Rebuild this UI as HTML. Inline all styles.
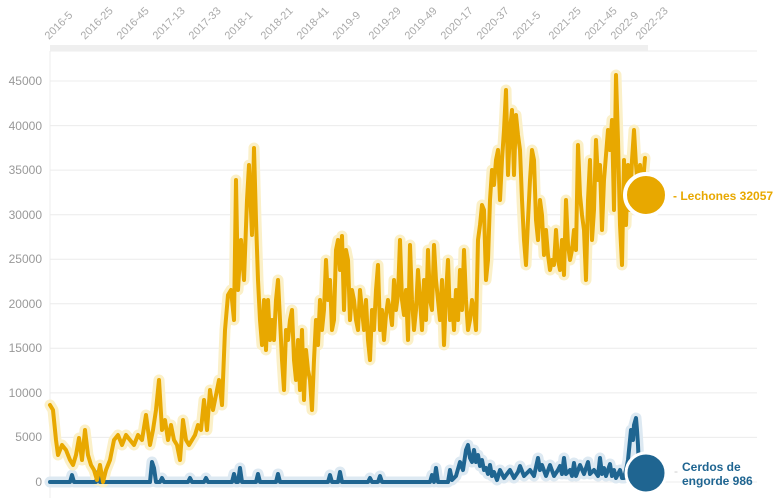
<!DOCTYPE html>
<html><head><style>body{margin:0;background:#fff}svg{display:block;font-family:"Liberation Sans",sans-serif}</style></head><body>
<svg width="783" height="498" viewBox="0 0 783 498">
<g stroke="#ececec" stroke-width="1">
<line x1="50" y1="482" x2="757" y2="482"/><line x1="50" y1="437.4" x2="757" y2="437.4"/><line x1="50" y1="392.9" x2="757" y2="392.9"/><line x1="50" y1="348.3" x2="757" y2="348.3"/><line x1="50" y1="303.8" x2="757" y2="303.8"/><line x1="50" y1="259.2" x2="757" y2="259.2"/><line x1="50" y1="214.7" x2="757" y2="214.7"/><line x1="50" y1="170.1" x2="757" y2="170.1"/><line x1="50" y1="125.6" x2="757" y2="125.6"/><line x1="50" y1="81" x2="757" y2="81"/><line x1="50" y1="51" x2="757" y2="51"/>
<line x1="50" y1="51" x2="50" y2="498"/>
</g>
<rect x="50" y="45" width="598" height="6" fill="#efefef"/>
<g fill="#999" font-size="12" text-anchor="end">
<text x="42" y="486">0</text><text x="42" y="441">5000</text><text x="42" y="397">10000</text><text x="42" y="352">15000</text><text x="42" y="308">20000</text><text x="42" y="263">25000</text><text x="42" y="219">30000</text><text x="42" y="174">35000</text><text x="42" y="130">40000</text><text x="42" y="85">45000</text>
</g>
<g fill="#aaa" font-size="11">
<text transform="translate(49,40) rotate(-45)">2016-5</text>
<text transform="translate(85,40) rotate(-45)">2016-25</text>
<text transform="translate(121,40) rotate(-45)">2016-45</text>
<text transform="translate(157,40) rotate(-45)">2017-13</text>
<text transform="translate(193,40) rotate(-45)">2017-33</text>
<text transform="translate(229,40) rotate(-45)">2018-1</text>
<text transform="translate(265,40) rotate(-45)">2018-21</text>
<text transform="translate(301,40) rotate(-45)">2018-41</text>
<text transform="translate(337,40) rotate(-45)">2019-9</text>
<text transform="translate(373,40) rotate(-45)">2019-29</text>
<text transform="translate(409,40) rotate(-45)">2019-49</text>
<text transform="translate(445,40) rotate(-45)">2020-17</text>
<text transform="translate(481,40) rotate(-45)">2020-37</text>
<text transform="translate(517,40) rotate(-45)">2021-5</text>
<text transform="translate(553,40) rotate(-45)">2021-25</text>
<text transform="translate(589,40) rotate(-45)">2021-45</text>
<text transform="translate(615,40) rotate(-45)">2022-9</text>
<text transform="translate(640,40) rotate(-45)">2022-23</text>
</g>
<defs>
<polyline id="y" points="50,405 53,410 56,440 58,455 62,445 66,450 70,460 73,465 76,455 79,438 82,460 85,430 88,455 91,465 94,470 97,480 100,465 103,482 106,470 110,460 114,440 118,435 122,445 126,435 130,440 134,445 138,435 142,440 146,415 150,445 153,430 156,410 159,380 162,430 165,420 168,440 171,425 174,440 177,445 180,460 183,420 186,440 189,445 192,440 195,435 198,425 201,430 204,400 207,430 210,390 213,410 216,395 219,380 222,405 225,330 228,295 231,290 234,320 236,180 238,290 241,240 244,280 247,200 249,165 252,235 254,148 256,220 258,280 260,320 262,345 264,300 266,350 268,300 270,340 272,320 274,340 276,300 278,280 280,320 282,360 284,390 286,330 288,340 290,320 292,310 294,360 296,380 298,340 300,390 302,330 304,400 306,350 308,370 310,380 312,410 314,360 316,320 318,345 320,300 322,330 324,310 326,260 328,300 330,280 332,330 334,320 336,250 338,240 340,270 342,236 344,310 346,250 348,260 350,320 352,290 354,300 356,320 358,330 360,290 362,310 364,330 366,300 368,340 370,360 372,310 374,330 376,290 378,265 380,330 382,310 384,340 386,315 388,300 390,310 392,325 394,280 396,310 398,295 400,240 402,300 404,315 406,290 408,340 410,245 412,300 414,330 416,310 418,270 420,300 422,330 424,280 426,320 428,250 430,300 432,310 434,245 436,280 438,300 440,320 442,280 444,345 446,295 448,260 450,320 452,300 454,330 456,290 458,320 460,270 462,310 464,250 466,300 468,330 470,320 472,300 474,310 476,330 478,240 480,225 482,205 484,210 486,280 488,260 490,200 492,170 494,185 496,160 498,150 500,200 502,160 504,130 506,90 508,175 510,130 512,110 514,175 516,115 518,135 520,150 522,200 524,240 526,265 528,220 530,180 532,150 534,160 536,220 538,240 540,200 542,215 544,255 546,230 548,255 550,270 552,260 554,265 556,230 558,260 560,270 562,240 564,275 566,200 568,245 570,260 572,250 574,230 576,250 578,145 580,195 582,215 584,230 586,280 588,200 590,160 592,240 594,210 596,140 598,180 600,165 602,230 604,180 606,155 608,130 610,150 612,120 614,210 616,75 618,140 620,225 622,265 624,160 626,225 628,165 630,210 632,160 634,130 636,165 638,190 640,165 642,195 645,158"/>
<polyline id="b" points="50,482 70,482 72,475 74,482 96,482 98,472 100,482 150,482 152,462 154,468 156,482 160,482 162,478 164,482 188,482 190,478 192,482 204,482 206,478 208,482 232,482 234,474 236,482 238,482 240,468 242,482 256,482 258,474 260,482 276,482 278,474 280,482 328,482 330,475 332,482 338,482 340,472 342,482 368,482 370,478 372,482 378,482 380,476 382,482 430,482 432,475 434,482 436,468 438,482 448,482 450,470 452,480 456,476 460,462 463,470 466,450 468,445 470,458 472,462 474,450 476,462 478,455 480,466 482,460 484,470 486,468 488,474 490,465 492,476 494,472 497,480 500,470 504,478 510,470 514,478 518,472 520,466 524,476 528,472 530,470 534,476 538,458 540,470 542,465 546,476 550,465 554,476 558,470 560,466 562,474 564,458 566,474 570,470 572,476 574,463 576,476 580,465 584,474 588,462 590,474 594,470 598,476 600,458 602,474 604,468 606,476 610,464 612,476 614,470 616,478 620,470 622,478 624,478 626,470 628,460 630,440 631,430 633,440 634,425 636,418 637,430 638,445 639,470 640,480 645,478"/>
</defs>
<g fill="none" stroke-linejoin="round" stroke-linecap="round">
<use href="#b" stroke="#dde9f2" stroke-width="11"/>
<use href="#y" stroke="#fbf0c8" stroke-width="11"/>
<use href="#b" stroke="#1f6591" stroke-width="4"/>
<use href="#y" stroke="#e8a800" stroke-width="4"/>
</g>
<circle cx="646" cy="195" r="21" fill="#e8a800" stroke="#fff" stroke-width="4"/>
<circle cx="646" cy="473" r="20" fill="#1f6591" stroke="#fff" stroke-width="3"/>
<text x="673" y="200" fill="#e8a800" font-size="12" font-weight="bold">- Lechones 32057</text>
<text x="674" y="475" fill="#ccc" font-size="12">-</text>
<text x="682" y="471" fill="#1f6591" font-size="12" font-weight="bold">Cerdos de</text>
<text x="682" y="485" fill="#1f6591" font-size="12" font-weight="bold">engorde 986</text>
</svg>
</body></html>
